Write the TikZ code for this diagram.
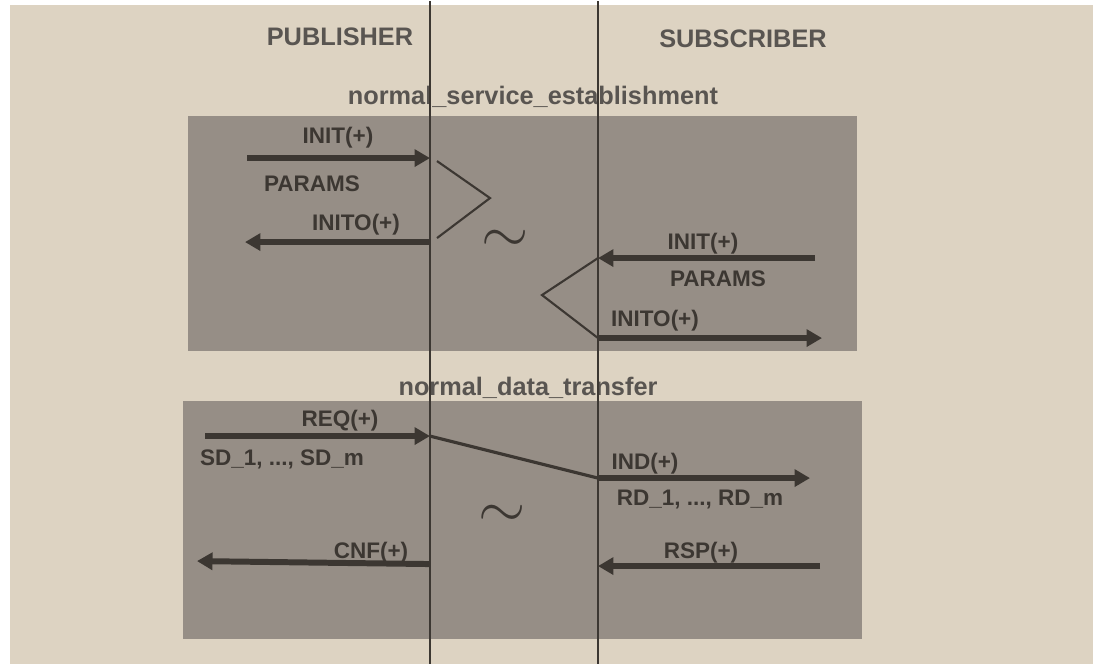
\documentclass[tikz,border=0pt]{standalone}
\usepackage{fontspec}
\setmainfont{Liberation Sans}
\usepackage{tikz}
\usetikzlibrary{arrows,arrows.meta,positioning}
\definecolor{page}{RGB}{221,211,194}
\definecolor{boxgray}{RGB}{150,142,134}
\definecolor{ink}{RGB}{60,55,50}
\tikzset{every node/.append style={scale=1}}
\tikzset{
  lbl/.style={text=ink,font=\fontsize{6.4}{8}\selectfont\bfseries,inner sep=0pt},
  head/.style={text=ink!85,font=\fontsize{7.2}{8}\selectfont\bfseries,inner sep=0pt},
  msg/.style={draw=ink,line width=1.7pt,-{Triangle[length=4.4pt,width=4.8pt]}},
  life/.style={draw=ink,line width=0.6pt},
  tilde/.style={text=ink,font=\fontsize{17}{17}\selectfont,inner sep=0pt},
}

\begin{document}
\begin{tikzpicture}[x=0.01cm,y=-0.01cm]
        \fill[white] (0,0) rectangle (1093,663);
        \fill[page] (10,4) rectangle (1093,663);
        \fill[boxgray] (188,115) rectangle (857,350);
        \fill[boxgray] (183,400) rectangle (862,638);

        \node[head] (pub) at (340,36) {PUBLISHER};
        \node[head] (sub) at (743,38) {SUBSCRIBER};
        \node[head] (nse) at (533,96) {normal\_service\_establishment};
        \node[head] (ndt) at (528,387) {normal\_data\_transfer};

        \coordinate (pt) at (430,0);
        \coordinate (pb) at (430,663);
        \coordinate (st) at (598,0);
        \coordinate (sb) at (598,663);
        \draw[life] (pt) -- (pb);
        \draw[life] (st) -- (sb);

        % service establishment
        \coordinate (a1) at (247,157);
        \coordinate (a2) at (430,157);
        \coordinate (a3) at (430,241);
        \coordinate (a4) at (245,241);
        \coordinate (ka) at (437,160);
        \coordinate (kb) at (490,197);
        \coordinate (kc) at (437,237);
        \coordinate (b1) at (815,257);
        \coordinate (b2) at (598,257);
        \coordinate (b3) at (598,337);
        \coordinate (b4) at (822,337);
        \coordinate (kd) at (542,294);

        \node[lbl] (init) at (338,137) {INIT(+)};
        \node[lbl] (params) at (312,183) {PARAMS};
        \node[lbl] (inito) at (356,224) {INITO(+)};
        \node[lbl] (rinit) at (703,243) {INIT(+)};
        \node[lbl] (rparams) at (718,278) {PARAMS};
        \node[lbl] (rinito) at (655,320) {INITO(+)};
        \node[tilde] (t1) at (505,240) {$\sim$};

        \draw[msg] (a1) -- (a2);
        \draw[msg] (a3) -- (a4);
        \draw[life] (ka) -- (kb) -- (kc);
        \draw[msg] (b1) -- (b2);
        \draw[msg] (b3) -- (b4);
        \draw[life] (b2) -- (kd) -- (b3);

        % data transfer
        \coordinate (c1) at (205,435);
        \coordinate (c2) at (430,435);
        \coordinate (c3) at (598,477);
        \coordinate (c4) at (810,477);
        \coordinate (d1) at (430,563);
        \coordinate (d2) at (197,560);
        \coordinate (d3) at (820,565);
        \coordinate (d4) at (598,565);

        \node[lbl] (req) at (340,420) {REQ(+)};
        \node[lbl] (sd) at (282,458) {SD\_1, ..., SD\_m};
        \node[lbl] (ind) at (645,463) {IND(+)};
        \node[lbl] (rd) at (700,498) {RD\_1, ..., RD\_m};
        \node[lbl] (cnf) at (371,552) {CNF(+)};
        \node[lbl] (rsp) at (701,552) {RSP(+)};
        \node[tilde] (t2) at (502,515) {$\sim$};

        \draw[msg] (c1) -- (c2);
        \draw[line width=0.9pt,draw=ink] (c2) -- (c3);
        \draw[msg] (c3) -- (c4);
        \draw[msg] (d1) -- (d2);
        \draw[msg] (d3) -- (d4);
\end{tikzpicture}
\end{document}
